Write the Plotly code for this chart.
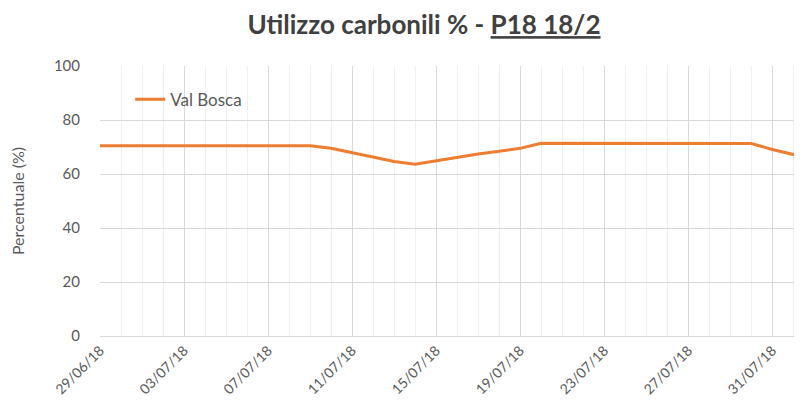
"""Utilizzo carbonili % - P18 18/2: andamento giornaliero Val Bosca."""

import pandas as pd
import plotly.graph_objects as go

# Date giornaliere (29/06/18 - 02/08/18) e valori percentuali.
DATES = pd.date_range("2018-06-29", "2018-08-02", freq="D").strftime("%Y-%m-%d").tolist()
VAL_BOSCA = [
    70.5, 70.5, 70.5, 70.5, 70.5, 70.5, 70.5, 70.5, 70.5, 70.5, 70.5,
    69.5, 67.9, 66.2, 64.6, 63.6, 64.9, 66.0, 67.4, 68.4, 69.5, 71.4,
    71.4, 71.4, 71.4, 71.4, 71.4, 71.4, 71.4, 71.4, 71.4,
    71.3, 69.1, 67.2, 65.4,
]
Y_TICKS = [0, 20, 40, 60, 80, 100]

_FONT = "Lato, 'Open Sans', sans-serif"
_GREY = "#595959"
_ORANGE = "#ED7D31"

# La pagina HTML aggiunge 8px di margine al body: la figura e' ridotta di 8px
# in larghezza e altezza cosi' non esce dalla finestra.
fig = go.Figure(
    go.Scatter(
        x=DATES,
        y=VAL_BOSCA,
        mode="lines",
        name="Val Bosca",
        line={"width": 3, "color": _ORANGE},
    )
)

fig.update_layout(
    width=794,
    height=400,
    margin={"l": 92, "r": 0, "t": 58, "b": 72, "autoexpand": False},
    paper_bgcolor="white",
    plot_bgcolor="white",
    font={"family": _FONT, "color": _GREY, "size": 14},
    title={
        "text": "<b>Utilizzo carbonili % - <u>P18 18/2</u></b>",
        "x": 416 / 794,
        "xref": "container",
        "xanchor": "center",
        "y": 1 - 17 / 400,
        "yref": "container",
        "yanchor": "middle",
        "font": {"size": 26, "color": "#404040", "family": _FONT},
    },
    showlegend=True,
    legend={
        "x": 0.043,
        "y": 0.875,
        "xanchor": "left",
        "yanchor": "middle",
        "bgcolor": "rgba(0,0,0,0)",
        "font": {"size": 17, "color": _GREY},
    },
    xaxis={
        "type": "date",
        "range": ["2018-06-29", "2018-08-01 10:00"],
        "tick0": "2018-06-29",
        "dtick": 4 * 86400000,
        "tickformat": "%d/%m/%y",
        "tickangle": -45,
        "tickfont": {"size": 14, "color": _GREY},
        "showgrid": True,
        "gridcolor": "#d9d9d9",
        "gridwidth": 1,
        "minor": {"dtick": 86400000, "showgrid": True, "gridcolor": "#efefef"},
        "showline": True,
        "linecolor": "#d9d9d9",
        "zeroline": False,
        "ticks": "",
        "automargin": False,
        "fixedrange": True,
    },
    yaxis={
        "range": [0, 100],
        "tickvals": Y_TICKS,
        "tickfont": {"size": 15, "color": _GREY},
        "showgrid": True,
        "gridcolor": "#d9d9d9",
        "gridwidth": 1,
        "zeroline": False,
        "ticks": "outside",
        "ticklen": 16,
        "tickcolor": "rgba(0,0,0,0)",
        "title": {"text": "Percentuale (%)", "font": {"size": 16, "color": _GREY}, "standoff": 32},
        "automargin": False,
        "fixedrange": True,
    },
)

fig.write_html("out.html")
